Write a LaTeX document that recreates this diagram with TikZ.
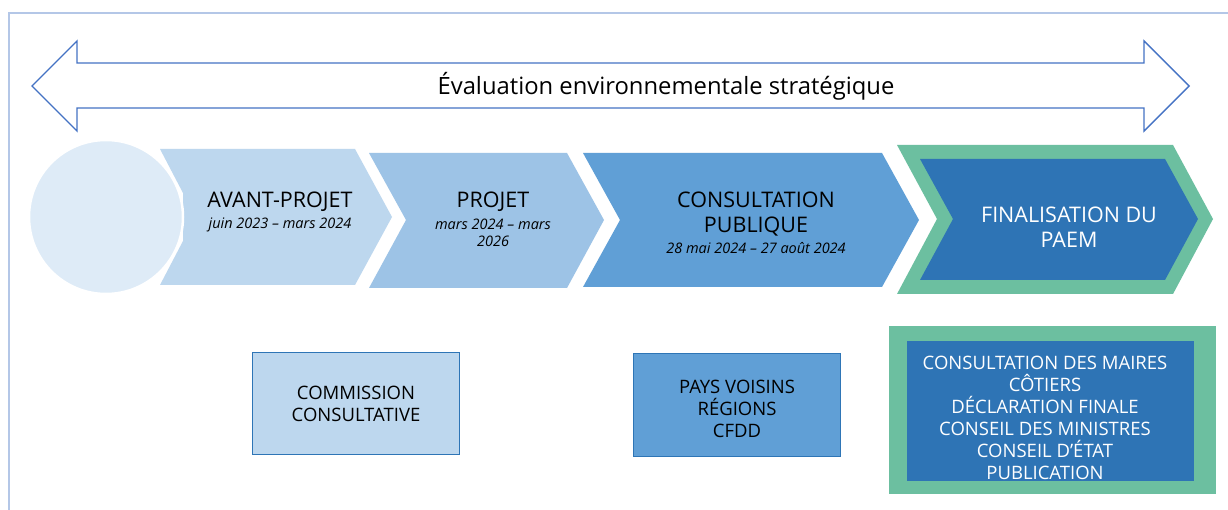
\documentclass[tikz,border=0pt]{standalone}
\usepackage{fontspec}
\setmainfont{Open Sans}
\definecolor{frameC}{HTML}{B4C7E7}
\definecolor{arrowC}{HTML}{4472C4}
\definecolor{circC}{HTML}{DEEBF7}
\definecolor{cOne}{HTML}{BDD7EE}
\definecolor{cTwo}{HTML}{9DC3E6}
\definecolor{cThree}{HTML}{609FD6}
\definecolor{cFour}{HTML}{2E74B5}
\definecolor{greenC}{HTML}{6CBFA0}
\definecolor{boxLine}{HTML}{2E75B6}
\begin{document}
\begin{tikzpicture}[x=1pt,y=-1pt,
  bigtxt/.style={font=\fontsize{21.5}{25}\selectfont, align=center, inner sep=0pt},
  datetxt/.style={font=\fontsize{14.5}{17}\itshape, align=center, inner sep=0pt},
  boxtxt/.style={font=\fontsize{18.5}{22}\selectfont, align=center, inner sep=0pt},
  smallbox/.style={draw=boxLine, line width=1pt}]
\useasboundingbox (0,0) rectangle (1228,510);
\fill[white] (0,0) rectangle (1228,510);
% frame
\draw[frameC, line width=1.2pt] (9,510) -- (9,13) -- (1228,13);
% double arrow
\draw[arrowC, line width=1.4pt, line join=miter] (32,86) -- (77,41) -- (77,63) -- (1144,63) -- (1144,41) -- (1189,86) -- (1144,131) -- (1144,108) -- (77,108) -- (77,131) -- cycle;
\node[font=\fontsize{23.8}{28}\selectfont, inner sep=0pt] (title) at (666,86) {Évaluation environnementale stratégique};
% chevrons
\fill[cOne] (160,149) -- (355,149) -- (392,217) -- (355,285) -- (160,285) -- (183,241) -- (183,193) -- cycle;
\fill[circC, draw=white, line width=2.5pt] (106,217) circle (77);
\fill[cTwo] (369,153) -- (567,153) -- (604,220) -- (567,288) -- (369,288) -- (406,220) -- cycle;
\fill[cThree] (583,153) -- (882,153) -- (919,220) -- (882,287) -- (583,287) -- (620,220) -- cycle;
\fill[greenC] (897,145) -- (1173,145) -- (1213,219) -- (1173,294) -- (897,294) -- (937,219) -- cycle;
\fill[cFour] (920,159) -- (1165,159) -- (1198,219) -- (1165,280) -- (920,280) -- (953,219) -- cycle;
% chevron texts
\node[bigtxt] (avant) at (280,202) {AVANT-PROJET};
\node[datetxt] (avantd) at (280,225) {juin 2023 – mars 2024};
\node[bigtxt] (projet) at (493,202) {PROJET};
\node[datetxt] (projetd) at (493,233) {mars 2024 – mars\\2026};
\node[bigtxt] (consult) at (756,214) {CONSULTATION\\PUBLIQUE};
\node[datetxt] (consultd) at (756,248) {28 mai 2024 – 27 août 2024};
\node[bigtxt, text=white] (final) at (1069,227) {FINALISATION DU\\PAEM};
% bottom boxes
\node[smallbox, fill=cOne, minimum width=207pt, minimum height=102pt, inner sep=0pt] (commission) at (355.5,403) {};
\node[boxtxt] (commissiont) at (356,404) {COMMISSION\\CONSULTATIVE};
\node[smallbox, fill=cThree, minimum width=207pt, minimum height=103pt, inner sep=0pt] (pays) at (736.5,404.5) {};
\node[boxtxt] (payst) at (737,409) {PAYS VOISINS\\RÉGIONS\\CFDD};
\fill[greenC] (889,326) rectangle (1216,494);
\fill[cFour] (907,341) rectangle (1194,481);
\begin{scope}
\clip (907,341) rectangle (1194,481);
\node[boxtxt, text=white] (finalt) at (1045,418) {CONSULTATION DES MAIRES\\CÔTIERS\\DÉCLARATION FINALE\\CONSEIL DES MINISTRES\\CONSEIL D’ÉTAT\\PUBLICATION};
\end{scope}
\end{tikzpicture}
\end{document}
